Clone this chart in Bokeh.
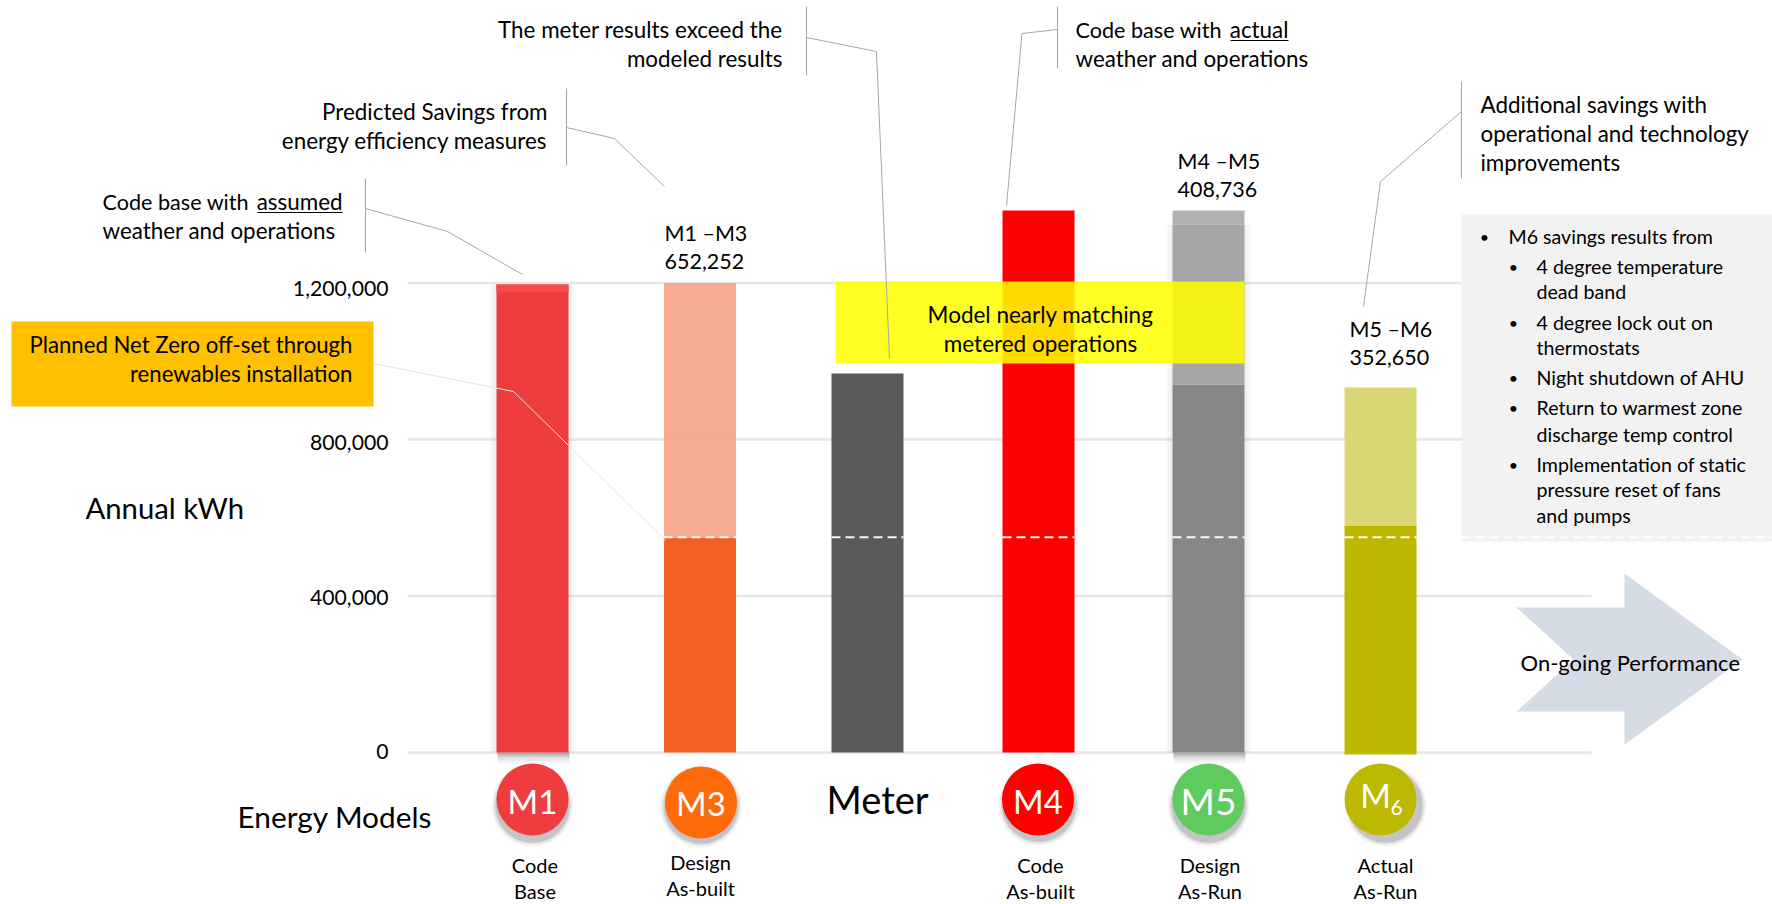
from bokeh.core.properties import value
from bokeh.embed import file_html
from bokeh.models import FixedTicker, LinearAxis, NumeralTickFormatter, Range1d
from bokeh.plotting import figure
from bokeh.resources import INLINE

# ---- chart values (kWh) ----
model_names = ["M1", "M3", "Meter", "M4", "M5", "M6"]
base_kwh = [1196000, 548000, 968700, 1385000, 940000, 580000]
savings_kwh = [0, 652252, 0, 0, 408736, 352650]
savings_labels = ["M1 \u2013M3", "M4 \u2013M5", "M5 \u2013M6"]
savings_texts = ["652,252", "408,736", "352,650"]
net_zero_kwh = 550000
axis_ticks = [0, 400000, 800000, 1200000]

# ---- colours ----
base_colors = ["#EE3739", "#F35E24", "#595959", "#FF0000", "#878787", "#BDB700"]
savings_colors = ["#EF3D3F", "#F7A78A", "#595959", "#FF0000", "#A6A6A6", "#DAD875"]
badge_colors = ["#EF3D3F", "#FF6A0A", "#FF0000", "#5FCB5F", "#BDB800"]
LEADER = "#A6A6A6"
FONT = "Lato"

# ---- layout ----
W, H = 1772, 904
BAR_W = 72
bar_centers = [532, 699.5, 867, 1038, 1208, 1380]
PX_PER_KWH = 469.5 / 1200000
AXIS_Y = 752

p = figure(width=W, height=H, output_backend="svg", toolbar_location=None,
           x_range=Range1d(0, W),
           y_range=Range1d(-(H - AXIS_Y) / PX_PER_KWH, AXIS_Y / PX_PER_KWH),
           x_axis_location=None, y_axis_location=None, min_border=0)
p.outline_line_color = None
p.background_fill_color = "white"
p.border_fill_color = "white"
p.grid.visible = False
p.extra_y_ranges["px"] = Range1d(H, 0)
# tick labels sit on a slightly tighter spacing than the rules they annotate
label_scale = 463 / 1200000
label_zero = AXIS_Y - 1
p.extra_y_ranges["tick_labels"] = Range1d(-(H - label_zero) / label_scale, label_zero / label_scale)

axis = LinearAxis(y_range_name="tick_labels", fixed_location=388,
                  ticker=FixedTicker(ticks=axis_ticks),
                  formatter=NumeralTickFormatter(format="0,0"))
axis.axis_line_color = None
axis.major_tick_line_color = None
axis.minor_tick_line_color = None
axis.major_tick_in = 0
axis.major_tick_out = 0
axis.major_label_standoff = 0
axis.major_label_text_font = FONT
axis.major_label_text_font_size = "21.2px"
axis.major_label_text_color = "black"
p.add_layout(axis, "left")


def note(x, y, s, size=22.4, align="left", color="black"):
    p.text([x], [y - 2], text=[s], y_range_name="px", text_font=value(FONT),
           text_font_size=f"{size}px", text_align=align, text_baseline="middle",
           text_color=color)


def path(xs, ys, color=LEADER, width=1, dash="solid"):
    p.line(xs, ys, y_range_name="px", line_color=color, line_width=width, line_dash=dash)


def soft_shadow(i):
    # faint halo and a fading drop shadow under the raised bars
    left = bar_centers[i] - BAR_W / 2
    top = base_kwh[i] + savings_kwh[i]
    for grow, alpha in [(14, 0.035), (9, 0.05), (5, 0.05)]:
        p.vbar([bar_centers[i]], BAR_W + grow, top=[top], bottom=[0], fill_color="#808080",
               fill_alpha=alpha, line_color=None)
    for depth, alpha in [(11, 0.06), (8, 0.08), (5, 0.12), (3, 0.16)]:
        p.quad(left=[left + 1], right=[left + BAR_W + 1], top=[AXIS_Y], bottom=[AXIS_Y + depth],
               y_range_name="px", fill_color="#404040", fill_alpha=alpha, line_color=None)


# ---- horizontal rules ----
p.segment([407] * 4, axis_ticks, [1591] * 4, axis_ticks, line_color="#E6E6E6", line_width=2.5)

# ---- on-going performance arrow ----
p.patch([1516, 1624, 1624, 1742, 1624, 1624, 1516, 1573],
        [607, 607, 573, 659, 744, 711, 711, 659], y_range_name="px",
        fill_color="#D6DCE5", line_color=None)

# ---- bars ----
soft_shadow(0)
soft_shadow(4)
for i, cx in enumerate(bar_centers):
    floor = -5000 if model_names[i] == "M6" else 0
    if model_names[i] == "M1":
        p.vbar([cx], BAR_W, top=[base_kwh[i]], bottom=[floor], fill_color=base_colors[i],
               fill_alpha=0.97, line_color=None)
    else:
        p.vbar([cx], BAR_W, top=[base_kwh[i]], bottom=[floor], fill_color=base_colors[i],
               line_color=None)
    if savings_kwh[i]:
        p.vbar([cx], BAR_W, top=[base_kwh[i] + savings_kwh[i]], bottom=[base_kwh[i]],
               fill_color=savings_colors[i], fill_alpha=0.95 if i == 1 else 1, line_color=None)

# lighter caps on the raised bars
p.vbar([bar_centers[0]], BAR_W, top=[1196000], bottom=[1176000], fill_color="#F8494B", line_color=None)
p.vbar([bar_centers[4]], BAR_W, top=[1385000], bottom=[base_kwh[4] + savings_kwh[4]],
       fill_color="#B2B2B2", line_color=None)

# ---- side panel ----
p.quad(left=[1461], right=[W], top=[214], bottom=[541], y_range_name="px",
       fill_color="#F2F2F2", line_color=None)

# ---- net zero dashes ----
dash_spans = [(663, 736), (831, 903), (1002, 1074), (1172, 1244), (1344, 1416), (1461, W)]
p.segment([a for a, _ in dash_spans], [net_zero_kwh] * 6, [b for _, b in dash_spans],
          [net_zero_kwh] * 6, line_color="white", line_width=2, line_dash="9 5", line_alpha=0.95)

# ---- yellow call-out ----
p.quad(left=[835], right=[1244], top=[281], bottom=[363], y_range_name="px",
       fill_color="#FFFF00", fill_alpha=0.86, line_color=None)
note(1040, 316, "Model nearly matching", 22.5, "center")
note(1040, 345, "metered operations", 22.5, "center")

# ---- orange call-out ----
p.quad(left=[11], right=[373], top=[321], bottom=[406], y_range_name="px",
       fill_color="#FFC000", line_color=None)
note(352, 346, "Planned Net Zero off-set through", 22.2, "right")
note(352, 375, "renewables installation", 22.2, "right")

# ---- leader lines ----
path([365, 365], [178, 252])
path([365, 447, 522], [208, 231, 274])
path([566, 566], [88, 165])
path([566, 614, 664], [127, 138, 186])
path([806, 806], [6, 75])
path([806, 876, 889], [37, 51, 358])
path([1057, 1057], [6, 68])
path([1057, 1021.5, 1006], [29, 33, 205])
path([1461, 1461], [81, 178])
path([1461, 1380, 1363], [111, 181, 306])
path([373, 513, 665], [363, 391, 540], color="#E6E6E6")

# ---- annotation texts ----
note(102, 203, "Code base with", 21.6)
note(342, 203, "assumed", 22.4, "right")
path([257, 342], [212, 212], color="black")
note(102, 232, "weather and operations")

note(547, 113, "Predicted Savings from", 22.4, "right")
note(547, 142, "energy efficiency measures", 22.4, "right")

note(782, 31, "The meter results exceed the", 22.4, "right")
note(782, 60, "modeled results", 22.4, "right")

note(1075, 31, "Code base with", 21.6)
note(1288, 31, "actual", 22.4, "right")
path([1230, 1288], [40, 40], color="black")
note(1075, 60, "weather and operations")

note(1480, 106, "Additional savings with")
note(1480, 135, "operational and technology")
note(1480, 164, "improvements")

# ---- savings labels ----
for lx, ly, head, val in zip([664, 1177, 1349], [234, 162, 330], savings_labels, savings_texts):
    note(lx, ly, head, 21.5)
    note(lx, ly + 29, val, 21.5)

# ---- axis and group titles ----
note(85, 509, "Annual kWh", 29.3)
note(237, 818, "Energy Models", 29.8)
note(826, 800, "Meter", 38)
note(1520, 664, "On-going Performance", 22)

# ---- side panel bullets ----
outer = [(238, "M6 savings results from")]
inner = [(268, "4 degree temperature", True), (293, "dead band", False),
         (324, "4 degree lock out on", True), (349, "thermostats", False),
         (379, "Night shutdown of AHU", True),
         (409, "Return to warmest zone", True), (436, "discharge temp control", False),
         (466, "Implementation of static", True), (491, "pressure reset of fans", False),
         (517, "and pumps", False)]
for y, s in outer:
    note(1484, y, "\u2022", 16, "center")
    note(1508, y, s, 19.6)
for y, s, bullet in inner:
    if bullet:
        note(1513, y, "\u2022", 16, "center")
    note(1536, y, s, 19.6)

# ---- model badges ----
badge_x = [532, 700.5, 1037.5, 1208, 1380]
badge_y = [799, 802, 799, 799, 799]
shadow_dx = [0, 0, 1, 0, 5]
shadow_dy = [6, 4, 5, 6, 6]
for cx, cy, dx, dy, col in zip(badge_x, badge_y, shadow_dx, shadow_dy, badge_colors):
    for grow, alpha in [(10, 0.05), (7, 0.07), (4, 0.1), (2, 0.12)]:
        p.ellipse([cx + dx], [cy + dy], width=72 + grow, height=72 + grow, y_range_name="px",
                  fill_color="#404040", fill_alpha=alpha, line_color=None)
    p.ellipse([cx], [cy], width=72, height=72, y_range_name="px", fill_color=col, line_color=None)

note(532, 802, "M1", 33, "center", "white")
note(700.5, 804, "M3", 33, "center", "white")
note(1037.5, 802, "M4", 33, "center", "white")
note(1208, 802, "M5", 37, "center", "white")
note(1375, 796, "M", 33, "center", "white")
note(1396, 809, "6", 21, "center", "white")

# ---- model captions ----
captions = [(534.5, 866, "Code", "Base"), (700, 863, "Design", "As-built"),
            (1040, 866, "Code", "As-built"), (1209.5, 866, "Design", "As-Run"),
            (1385, 866, "Actual", "As-Run")]
for cx, cy, first, second in captions:
    note(cx, cy, first, 20, "center")
    note(cx, cy + 26, second, 20, "center")

open("out.html", "w").write(file_html(p, INLINE))
